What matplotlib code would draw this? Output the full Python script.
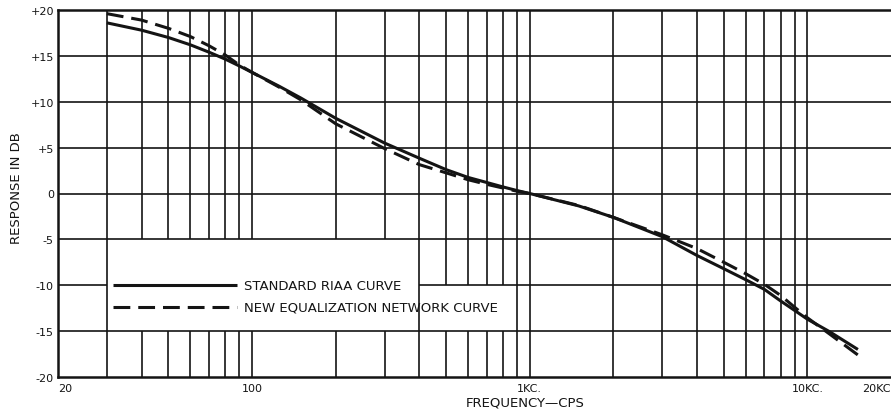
import matplotlib
matplotlib.use("Agg")
import matplotlib.pyplot as plt
from matplotlib.transforms import offset_copy

# ---- data ----
freq_std = [30, 40, 50, 60, 70, 80, 90, 100, 125, 150, 200, 300, 400, 500, 600, 700,
            800, 900, 1000, 1500, 2000, 3000, 4000, 5000, 6000, 7000, 8000, 9000,
            10000, 12000, 15200]
riaa_db = [18.6, 17.8, 17.0, 16.2, 15.4, 14.65, 13.9, 13.2, 11.7, 10.4, 8.2, 5.5, 3.85,
           2.6, 1.75, 1.2, 0.72, 0.32, 0.0, -1.35, -2.6, -4.7, -6.75, -8.2, -9.4,
           -10.45, -11.7, -12.75, -13.7, -15.05, -17.0]

freq_new = [30, 40, 50, 60, 70, 80, 90, 100, 125, 150, 200, 300, 400, 500, 600, 700,
            800, 900, 1000, 1500, 2000, 3000, 4000, 5000, 6000, 7000, 8000, 9000,
            10000, 12000, 15200]
new_db = [19.6, 18.9, 18.0, 17.1, 16.1, 15.1, 14.0, 13.2, 11.6, 10.2, 7.6, 4.9, 3.15,
          2.25, 1.5, 1.0, 0.6, 0.25, 0.0, -1.3, -2.6, -4.5, -6.0, -7.5, -8.75,
          -9.9, -11.1, -12.4, -13.55, -15.3, -17.6]

series_labels = ["STANDARD RIAA CURVE", "NEW EQUALIZATION NETWORK CURVE"]
y_ticks = [-20, -15, -10, -5, 0, 5, 10, 15, 20]
y_tick_labels = ["-20", "-15", "-10", "-5", "0", "+5", "+10", "+15", "+20"]
x_ticks = [20, 100, 1000, 10000]
x_tick_labels = ["20", "100", "1KC.", "10KC."]
x_end_label = "20KC"
grid_freqs = [30, 40, 50, 60, 70, 80, 90, 100, 200, 300, 400, 500, 600, 700, 800,
              900, 1000, 2000, 3000, 4000, 5000, 6000, 7000, 8000, 9000, 10000]
grid_db = [-15, -10, -5, 0, 5, 10, 15]

INK = "#141414"
W, H = 891, 410

fig = plt.figure(figsize=(W / 100, H / 100), dpi=100)
ax = fig.add_axes([58 / W, 1 - 378 / H, 1 - 58 / W, (378 - 11) / H])
ax.set_xscale("log")
ax.set_xlim(20, 20000)
ax.set_ylim(-20, 20)

glw = 1.2
# vertical grid lines, leaving the legend area blank
for f in grid_freqs:
    if 30 < f < 400:
        segs = [(-20, -15), (-5, 20)]
    elif 400 < f < 900:
        segs = [(-20, -15), (-10, 20)]
    else:
        segs = [(-20, 20)]
    for y0, y1 in segs:
        ax.plot([f, f], [y0, y1], color=INK, lw=glw, solid_capstyle="butt", zorder=1)
# horizontal grid lines
for d in grid_db:
    if d == -10:
        segs = [(20, 30), (400, 20000)]
    else:
        segs = [(20, 20000)]
    for x0, x1 in segs:
        ax.plot([x0, x1], [d, d], color=INK, lw=glw, solid_capstyle="butt", zorder=1)

# curves
ax.plot(freq_std, riaa_db, color=INK, lw=2.2, zorder=3, solid_capstyle="butt",
        solid_joinstyle="round")
ax.plot(freq_new, new_db, color=INK, lw=2.2, zorder=3, linestyle=(0, (5.5, 2.6)))

# legend drawn inside the blank area
ax.plot([31.6, 88.3], [-10, -10], color=INK, lw=2.2, zorder=3, solid_capstyle="butt")
ax.plot([31.6, 88.3], [-12.4, -12.4], color=INK, lw=2.2, zorder=3,
        linestyle=(0, (5.5, 2.6)))
ax.text(93.5, -10, series_labels[0], fontsize=9.5, va="center", ha="left", color=INK)
ax.text(93.5, -12.4, series_labels[1], fontsize=9.5, va="center", ha="left", color=INK)

# spines
for s in ["left", "top", "bottom"]:
    ax.spines[s].set_linewidth(1.8)
    ax.spines[s].set_color(INK)
ax.spines["right"].set_visible(False)

# ticks
ax.set_yticks(y_ticks)
ax.set_yticklabels(y_tick_labels, fontsize=8, color=INK)
ax.set_xticks(x_ticks)
ax.set_xticklabels(x_tick_labels, fontsize=8, color=INK)
ax.xaxis.set_minor_locator(matplotlib.ticker.NullLocator())
ax.tick_params(axis="both", length=0)
ax.tick_params(axis="y", pad=3)
ax.tick_params(axis="x", pad=4)
ax.get_xticklabels()[0].set_ha("left")
ax.text(20000, -20, x_end_label, fontsize=8, color=INK, ha="right", va="top",
        transform=offset_copy(ax.transData, fig=fig, x=0, y=-4, units="points"))

fig.text(525 / W, 1 - 403 / H, "FREQUENCY\u2014CPS", fontsize=9.5, ha="center",
         va="center", color=INK)
fig.text(17 / W, 1 - 188 / H, "RESPONSE IN DB", fontsize=9.5, ha="center",
         va="center", rotation=90, color=INK)

fig.savefig("out.png", dpi=100, facecolor="white")
